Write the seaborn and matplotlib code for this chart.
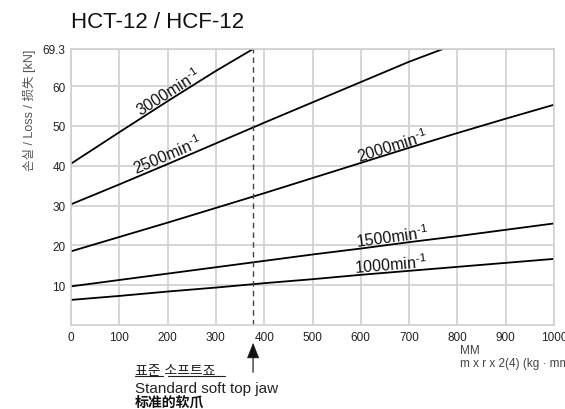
import numpy as np
import pandas as pd
import matplotlib
matplotlib.use('Agg')
import matplotlib.pyplot as plt
import seaborn as sns

# Curve data (x = m x r x 2(4), y = loss [kN])
x_std = [0, 100, 200, 300, 400, 500, 600, 700, 800, 900, 1000]
loss_1000 = [6.3, 7.3, 8.4, 9.4, 10.5, 11.5, 12.6, 13.6, 14.6, 15.6, 16.6]
loss_1500 = [9.7, 11.3, 12.9, 14.5, 16.1, 17.7, 19.2, 20.8, 22.3, 23.9, 25.5]
loss_2000 = [18.5, 22.1, 25.7, 29.4, 33.1, 36.9, 40.7, 44.5, 48.2, 51.8, 55.3]
x_2500 = [0, 100, 200, 300, 400, 500, 600, 700, 770]
loss_2500 = [30.3, 35.3, 40.4, 45.6, 50.8, 55.9, 61.0, 66.1, 69.3]
x_3000 = [0, 100, 200, 300, 377]
loss_3000 = [40.5, 48.4, 56.2, 63.8, 69.3]

speeds = ['1000', '1500', '2000', '2500', '3000']
label_x = [662, 665, 665, 199, 201]
label_y = [15.3, 22.4, 45.2, 43.0, 58.6]

std_jaw_x = 377
y_max = 69.3
x_ticks = [0, 100, 200, 300, 400, 500, 600, 700, 800, 900, 1000]
y_ticks = [10, 20, 30, 40, 50, 60, 69.3]

frames = []
for sp, xs, ys in [('1000', x_std, loss_1000), ('1500', x_std, loss_1500),
                   ('2000', x_std, loss_2000), ('2500', x_2500, loss_2500),
                   ('3000', x_3000, loss_3000)]:
    frames.append(pd.DataFrame({'x': xs, 'loss': ys, 'speed': sp}))
df = pd.concat(frames, ignore_index=True)

sns.set_style('white')
plt.rcParams['font.family'] = ['Liberation Sans', 'Noto Sans CJK KR', 'DejaVu Sans']
plt.rcParams['mathtext.fontset'] = 'custom'
plt.rcParams['mathtext.rm'] = 'Liberation Sans'

fig = plt.figure(figsize=(5.65, 4.1), dpi=100)
ax = fig.add_axes([71 / 565, 1 - 326 / 410, 483 / 565, 276 / 410])

sns.lineplot(data=df, x='x', y='loss', hue='speed', palette=['black'] * 5,
             linewidth=1.3, legend=False, ax=ax, sort=False)

ax.set_xlim(0, 1000)
ax.set_ylim(0, y_max)
ax.set_xticks(x_ticks)
ax.set_yticks(y_ticks)
ax.set_yticklabels(['10', '20', '30', '40', '50', '60', '69.3'])
ax.grid(True, color='#d0d0d0', linewidth=1.2)
for s in ax.spines.values():
    s.set_color('#d0d0d0')
    s.set_linewidth(1.2)
ax.tick_params(length=0, pad=4, labelsize=8.5, colors='#222222')
ax.set_xlabel('')
ax.set_ylabel('손실 / Loss / 损失 [kN]', loc='top', fontsize=9, color='#555555',
              labelpad=5)

# standard jaw dashed line
ax.plot([std_jaw_x, std_jaw_x], [0, y_max], color='#444444', linewidth=1,
        linestyle=(0, (4, 3)))

# curve labels rotated along the curves
series = {'1000': (x_std, loss_1000), '1500': (x_std, loss_1500),
          '2000': (x_std, loss_2000), '2500': (x_2500, loss_2500),
          '3000': (x_3000, loss_3000)}
for sp, lx, ly in zip(speeds, label_x, label_y):
    xs, ys = series[sp]
    slope = np.interp(lx + 20, xs, ys) - np.interp(lx - 20, xs, ys)
    ang = np.degrees(np.arctan2(slope, 40))
    ax.text(lx, ly, sp + r'min$^{\text{-1}}$', fontsize=11.5, color='#111111',
            ha='center', va='center', rotation=ang, rotation_mode='anchor',
            transform_rotates_text=True)

fig.text(71 / 565, 1 - 22 / 410, 'HCT-12 / HCF-12', fontsize=16,
         color='#111111', va='center', ha='left')

# arrow for standard soft top jaw: grey shaft, black head
ax.annotate('', xy=(std_jaw_x, 1 - 352 / 410), xycoords=('data', 'figure fraction'),
            xytext=(std_jaw_x, 1 - 373 / 410), textcoords=('data', 'figure fraction'),
            arrowprops=dict(arrowstyle='-', color='#666666', lw=1.3,
                            shrinkA=0, shrinkB=0))
ax.annotate('', xy=(std_jaw_x, 1 - 344 / 410), xycoords=('data', 'figure fraction'),
            xytext=(std_jaw_x, 1 - 358 / 410), textcoords=('data', 'figure fraction'),
            arrowprops=dict(arrowstyle='-|>,head_length=1.0,head_width=0.4',
                            color='#111111', lw=0.5, shrinkA=0, shrinkB=0))

fig.text(135 / 565, 1 - 371 / 410, '표준 소프트죠', fontsize=10, color='#222222',
         va='center', ha='left')
fig.add_artist(plt.Line2D([135 / 565, 163 / 565], [1 - 377 / 410] * 2,
                          color='#222222', lw=0.8))
fig.add_artist(plt.Line2D([168 / 565, 225 / 565], [1 - 377 / 410] * 2,
                          color='#222222', lw=0.8))
fig.text(135 / 565, 1 - 389 / 410, 'Standard soft top jaw', fontsize=11,
         color='#222222', va='center', ha='left')
fig.text(135 / 565, 1 - 403 / 410, '标准的软爪', fontsize=10, color='#111111',
         va='center', ha='left', fontweight='bold',
         family=['Noto Sans CJK SC', 'DejaVu Sans'])

fig.text(460 / 565, 1 - 351 / 410, 'MM', fontsize=8.5, color='#444444',
         va='center', ha='left')
fig.text(460 / 565, 1 - 364 / 410, 'm x r x 2(4) (kg · mm)', fontsize=8.5,
         color='#444444', va='center', ha='left')

fig.savefig('out.png', dpi=100)
